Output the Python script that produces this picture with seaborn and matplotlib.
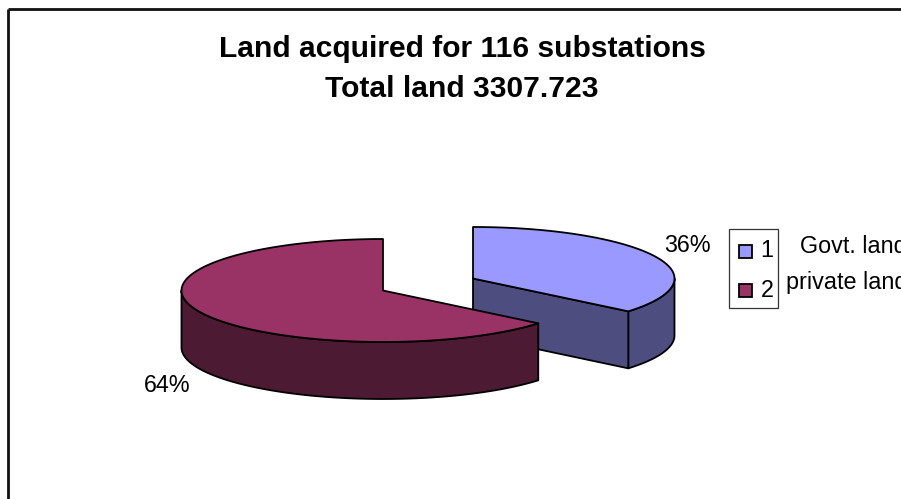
import numpy as np
import matplotlib
matplotlib.use("Agg")
import matplotlib.pyplot as plt
import seaborn as sns
from matplotlib.patches import Polygon, Rectangle

# Data
slice_ids = ["1", "2"]
slice_names = ["Govt. land", "private land"]
shares = [36, 64]
title_lines = ["Land acquired for 116 substations", "Total land 3307.723"]

# Colours: top face, then the darker side walls
top_colors = ["#9999FF", "#993366"]
wall_colors = ["#4D4D80", "#4D1A33"]

sns.set_theme(style="white", rc={"font.family": ["Liberation Sans", "DejaVu Sans"]})

WIDTH, HEIGHT = 901, 499
fig = plt.figure(figsize=(WIDTH / 100, HEIGHT / 100), dpi=100, facecolor="white")
ax = fig.add_axes([0, 0, 1, 1])
ax.set_xlim(0, WIDTH)
ax.set_ylim(HEIGHT, 0)
ax.axis("off")

RX, RY, DEPTH = 201.5, 51.5, 57
centers = [(473, 278.5), (383, 290.5)]
LW = 1.3


def rim(cx, cy, start, stop, n=120):
    """Points on the ellipse, angles in degrees clockwise from 12 o'clock."""
    t = np.radians(np.linspace(start, stop, n))
    return np.column_stack([cx + RX * np.sin(t), cy - RY * np.cos(t)])


def draw_slice(center, start, stop, top, wall, z):
    cx, cy = center
    drop = np.array([0, DEPTH])
    # Outer wall: only the part of the rim facing the viewer
    a, b = max(start, 90), min(stop, 270)
    if b > a:
        edge = rim(cx, cy, a, b)
        ax.add_patch(Polygon(np.vstack([edge, edge[::-1] + drop]), closed=True,
                             fc=wall, ec="black", lw=LW, zorder=z, joinstyle="round"))
    # Cut wall running from the centre to the rim, visible on the first slice
    if stop <= 180:
        tip = rim(cx, cy, stop, stop, 1)[0]
        c = np.array([cx, cy], dtype=float)
        ax.add_patch(Polygon(np.array([c, tip, tip + drop, c + drop]), closed=True,
                             fc=wall, ec="black", lw=LW, zorder=z + 0.1, joinstyle="round"))
    # Top face
    pts = np.vstack([[cx, cy], rim(cx, cy, start, stop)])
    ax.add_patch(Polygon(pts, closed=True, fc=top, ec="black", lw=LW,
                         zorder=z + 0.2, joinstyle="round"))


total = sum(shares)
angles = np.cumsum([0] + [360 * s / total for s in shares])
for i in range(len(shares)):
    draw_slice(centers[i], angles[i], angles[i + 1], top_colors[i], wall_colors[i], 2 + i)

# Outer frame, running off the right and bottom edges
ax.plot([8, 8], [HEIGHT + 5, 9], color="#111111", lw=2, solid_capstyle="butt", zorder=1)
ax.plot([8, WIDTH + 5], [9, 9], color="#111111", lw=2, solid_capstyle="butt", zorder=1)

# Title
TITLE_SIZE = 21.6
ax.text(462, 49, title_lines[0], ha="center", va="center", fontsize=TITLE_SIZE,
        fontweight="bold", color="black")
ax.text(462, 89, title_lines[1], ha="center", va="center", fontsize=TITLE_SIZE,
        fontweight="bold", color="black")

# Percentage labels
TEXT_SIZE = 16.8
label_pos = [(687, 245), (167, 385)]
for pos, s in zip(label_pos, shares):
    ax.text(pos[0], pos[1], f"{s}%", ha="center", va="center", fontsize=TEXT_SIZE, color="black")

# Legend box with swatches, ids and names
ax.add_patch(Rectangle((729, 229), 49, 79, fc="white", ec="#333333", lw=0.9, zorder=5))
swatch_y = [245, 284]
id_base = [257, 297]
name_x = [800, 786]
name_base = [253, 289]
for i in range(len(slice_ids)):
    ax.add_patch(Rectangle((739, swatch_y[i]), 13, 13, fc=top_colors[i], ec="black", lw=1.3, zorder=6))
    ax.text(767, id_base[i], slice_ids[i], ha="center", va="baseline", fontsize=TEXT_SIZE,
            color="black", zorder=6)
    ax.text(name_x[i], name_base[i], slice_names[i], ha="left", va="baseline", fontsize=TEXT_SIZE,
            color="black", zorder=6)

fig.savefig("out.png", dpi=100, facecolor="white")
